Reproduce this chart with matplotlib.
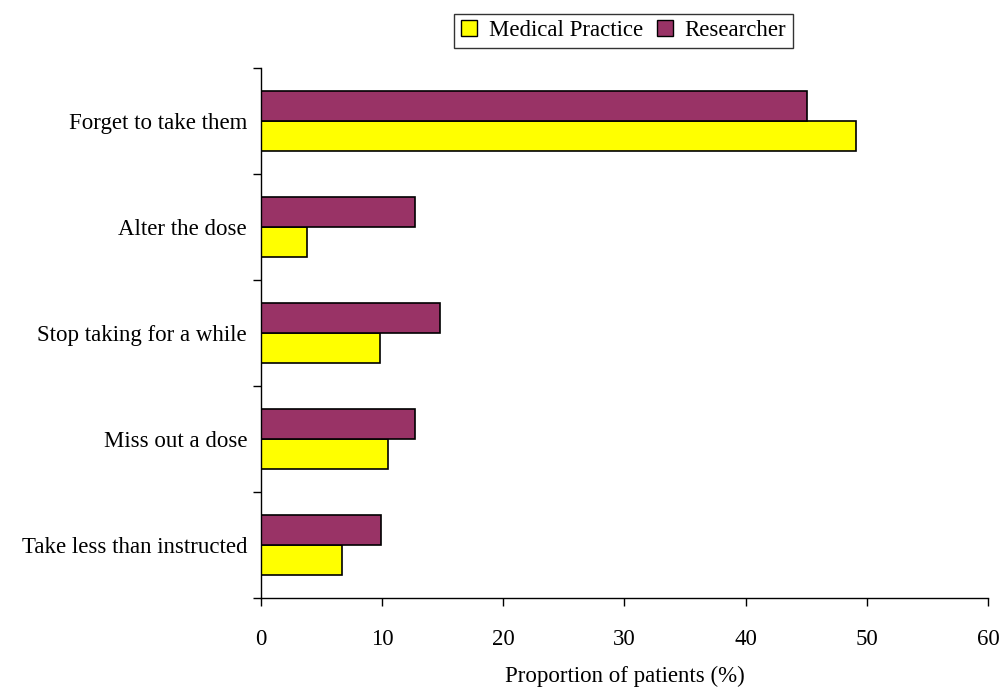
import numpy as np
import matplotlib.pyplot as plt
from matplotlib.patches import Patch

categories = ['Take less than instructed', 'Miss out a dose', 'Stop taking for a while',
              'Alter the dose', 'Forget to take them']
medical = [6.7, 10.5, 9.8, 3.8, 49.1]
researcher = [9.9, 12.7, 14.8, 12.7, 45.1]
xticks = [0, 10, 20, 30, 40, 50, 60]

plt.rcParams['font.family'] = ['Liberation Serif', 'DejaVu Serif']
fs = 16.5

fig = plt.figure(figsize=(10.01, 6.87), dpi=100)
ax = fig.add_axes([0.2607, 0.1296, 0.7263, 0.7714])

y = np.arange(len(categories))
h = 0.28
ax.barh(y - h / 2, medical, height=h, color='#FFFF00', edgecolor='black', linewidth=1.2)
ax.barh(y + h / 2, researcher, height=h, color='#993366', edgecolor='black', linewidth=1.2)

ax.set_xlim(0, 60)
ax.set_ylim(-0.5, len(categories) - 0.5)
ax.set_xticks(xticks)
ax.set_xticklabels([str(t) for t in xticks], fontsize=fs)
ax.set_yticks(np.arange(-0.5, len(categories), 1.0))
ax.set_yticklabels([])
ax.set_yticks(y, minor=True)
ax.set_yticklabels(categories, minor=True, fontsize=fs)
ax.tick_params(axis='y', which='minor', length=0, pad=10)
ax.tick_params(axis='y', which='major', direction='out', length=6, width=1)
ax.tick_params(axis='x', direction='out', length=6, width=1, pad=16)

for s in ['top', 'right']:
    ax.spines[s].set_visible(False)
for s in ['left', 'bottom']:
    ax.spines[s].set_linewidth(1)

ax.set_xlabel('Proportion of patients (%)', fontsize=fs, labelpad=12)

handles = [Patch(facecolor='#FFFF00', edgecolor='black', label='Medical Practice'),
           Patch(facecolor='#993366', edgecolor='black', label='Researcher')]
leg = fig.legend(handles=handles, loc='center', bbox_to_anchor=(0.623, 0.955), ncol=2,
                 fontsize=fs, frameon=True, fancybox=False, edgecolor='black',
                 handlelength=0.7, handleheight=0.7, handletextpad=0.5,
                 columnspacing=0.6, borderpad=0.3, borderaxespad=0)
leg.get_frame().set_linewidth(1)

fig.savefig('out.png', dpi=100)
